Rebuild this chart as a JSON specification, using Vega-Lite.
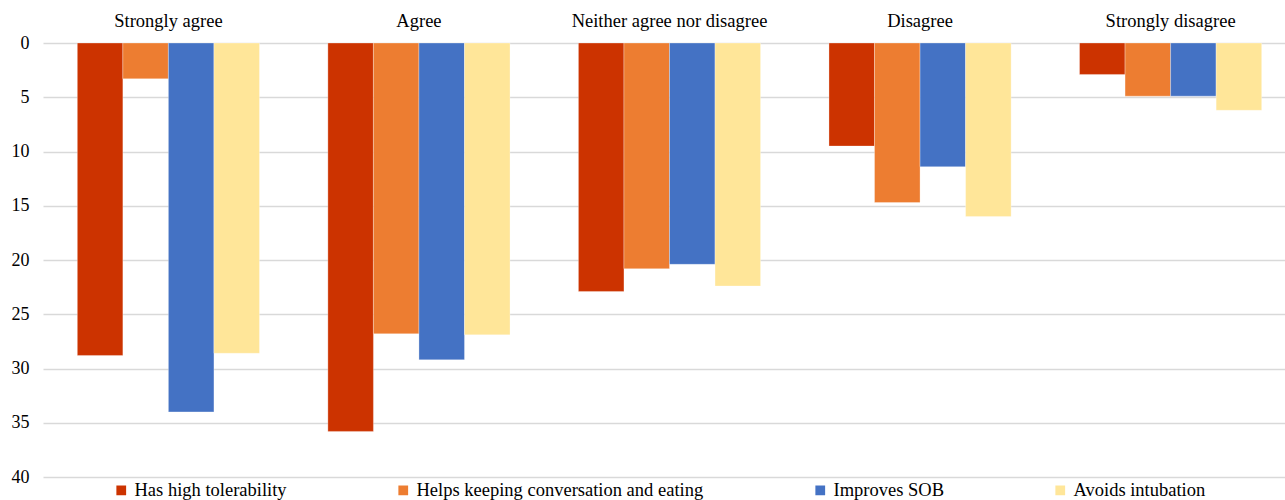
{
  "$schema": "https://vega.github.io/schema/vega-lite/v6.json",
  "autosize": "none",
  "width": 1253,
  "height": 434,
  "padding": {"left": 43, "top": 43, "right": 0, "bottom": 23},
  "background": "white",
  "config": {
    "font": "'Liberation Serif', 'Times New Roman', serif",
    "view": {"stroke": null},
    "axis": {"labelFont": "'Liberation Serif', 'Times New Roman', serif"},
    "legend": {"labelFont": "'Liberation Serif', 'Times New Roman', serif"}
  },
  "data": {
    "values": [
      {"category": "Strongly agree", "series": "Has high tolerability", "value": 28.8},
      {"category": "Strongly agree", "series": "Helps keeping conversation and eating", "value": 3.3},
      {"category": "Strongly agree", "series": "Improves SOB", "value": 34.0},
      {"category": "Strongly agree", "series": "Avoids intubation", "value": 28.6},
      {"category": "Agree", "series": "Has high tolerability", "value": 35.8},
      {"category": "Agree", "series": "Helps keeping conversation and eating", "value": 26.8},
      {"category": "Agree", "series": "Improves SOB", "value": 29.2},
      {"category": "Agree", "series": "Avoids intubation", "value": 26.9},
      {"category": "Neither agree nor disagree", "series": "Has high tolerability", "value": 22.9},
      {"category": "Neither agree nor disagree", "series": "Helps keeping conversation and eating", "value": 20.8},
      {"category": "Neither agree nor disagree", "series": "Improves SOB", "value": 20.4},
      {"category": "Neither agree nor disagree", "series": "Avoids intubation", "value": 22.4},
      {"category": "Disagree", "series": "Has high tolerability", "value": 9.5},
      {"category": "Disagree", "series": "Helps keeping conversation and eating", "value": 14.7},
      {"category": "Disagree", "series": "Improves SOB", "value": 11.4},
      {"category": "Disagree", "series": "Avoids intubation", "value": 16.0},
      {"category": "Strongly disagree", "series": "Has high tolerability", "value": 2.9},
      {"category": "Strongly disagree", "series": "Helps keeping conversation and eating", "value": 4.9},
      {"category": "Strongly disagree", "series": "Improves SOB", "value": 4.9},
      {"category": "Strongly disagree", "series": "Avoids intubation", "value": 6.2}
    ]
  },
  "mark": {"type": "bar", "stroke": "white", "strokeWidth": 0.5, "strokeOpacity": 0.6},
  "encoding": {
    "x": {
      "field": "category",
      "type": "nominal",
      "sort": ["Strongly agree", "Agree", "Neither agree nor disagree", "Disagree", "Strongly disagree"],
      "scale": {"paddingInner": 0.273, "paddingOuter": 0.137},
      "axis": {
        "orient": "top",
        "title": null,
        "domain": false,
        "ticks": false,
        "labelAngle": 0,
        "labelFontSize": 18.5,
        "labelColor": "#000000",
        "labelPadding": 13,
        "labelLimit": 400
      }
    },
    "xOffset": {
      "field": "series",
      "type": "nominal",
      "sort": ["Has high tolerability", "Helps keeping conversation and eating", "Improves SOB", "Avoids intubation"],
      "scale": {"paddingInner": 0, "paddingOuter": 0}
    },
    "y": {
      "field": "value",
      "type": "quantitative",
      "scale": {"domain": [0, 40], "reverse": true, "nice": false},
      "axis": {
        "title": null,
        "values": [0, 5, 10, 15, 20, 25, 30, 35, 40],
        "domain": false,
        "ticks": false,
        "labelFontSize": 18,
        "labelColor": "#000000",
        "labelPadding": 14,
        "gridColor": "#d9d9d9",
        "gridWidth": 1.5
      }
    },
    "color": {
      "field": "series",
      "type": "nominal",
      "sort": ["Has high tolerability", "Helps keeping conversation and eating", "Improves SOB", "Avoids intubation"],
      "scale": {
        "domain": ["Has high tolerability", "Helps keeping conversation and eating", "Improves SOB", "Avoids intubation"],
        "range": ["#CC3300", "#ED7D31", "#4472C4", "#FFE699"]
      },
      "legend": {
        "title": null,
        "orient": "none",
        "direction": "horizontal",
        "legendX": 69,
        "legendY": 438,
        "symbolType": "square",
        "symbolSize": 95,
        "symbolStrokeWidth": 0,
        "labelFontSize": 18.5,
        "labelColor": "#000000",
        "labelOffset": 4,
        "columnPadding": 107,
        "labelLimit": 400
      }
    }
  }
}
